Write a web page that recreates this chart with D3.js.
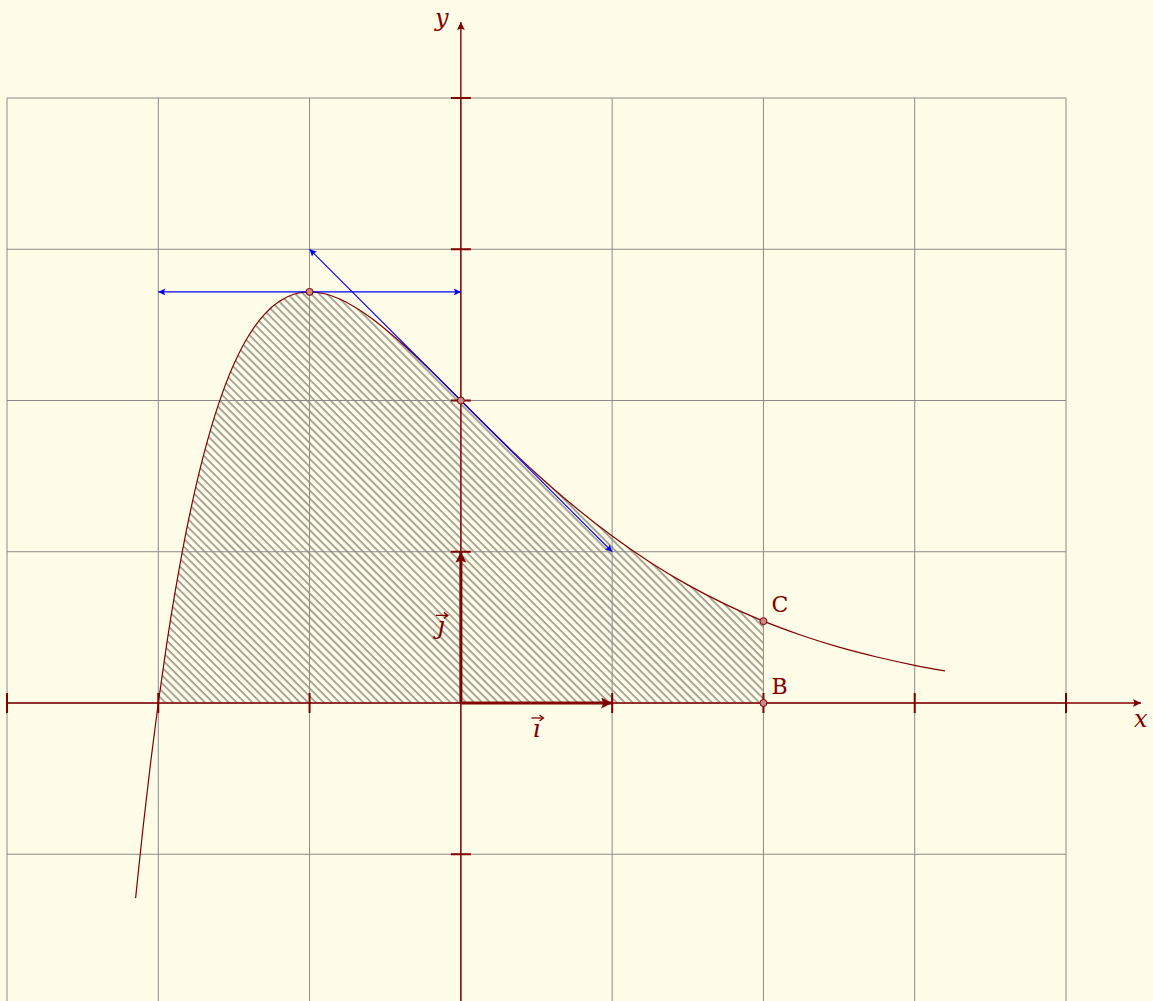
<!DOCTYPE html>
<html>
<head>
<meta charset="utf-8">
<script src="https://cdn.jsdelivr.net/npm/d3@7"></script>
<style>
  html, body { margin: 0; padding: 0; background: #fffce8; overflow: hidden; }
  text { font-family: "DejaVu Serif", "Liberation Serif", serif; fill: #800000; }
</style>
</head>
<body>
<script>
'use strict';

// grid / ticks
let gridX = [-3, -2, -1, 0, 1, 2, 3, 4];
let gridY = [-2, -1, 0, 1, 2, 3, 4];
let xTicks = [-3, -2, -1, 1, 2, 3, 4];
let yTicks = [-1, 1, 2, 3, 4];

// curve
let curveX = [-2.15, -2.1, -2.05, -2, -1.95, -1.9, -1.8, -1.7, -1.6, -1.5, -1.4, -1.3, -1.2, -1.1, -1,
  -0.9, -0.8, -0.6, -0.4, -0.2, 0, 0.25, 0.5, 0.75, 1, 1.25, 1.5, 1.75, 2, 2.25, 2.5, 2.75, 3, 3.2];
let curveY = [-1.29, -0.817, -0.388, 0, 0.351, 0.669, 1.21, 1.642, 1.981, 2.241, 2.433, 2.568, 2.656, 2.704, 2.718,
  2.706, 2.671, 2.551, 2.387, 2.199, 2, 1.752, 1.516, 1.299, 1.104, 0.931, 0.781, 0.652, 0.541, 0.448, 0.369, 0.304, 0.249, 0.212];

// hatched region bounds
let areaFrom = -2, areaTo = 2;

// marked points
let points = [
  { x: -1, y: 2.718, label: "" },
  { x: 0, y: 2, label: "" },
  { x: 2, y: 0.541, label: "C" },
  { x: 2, y: 0, label: "B" }
];

// blue tangents
let tangents = [
  { x1: -2, y1: 2.718, x2: 0, y2: 2.718 },
  { x1: -1, y1: 3, x2: 1, y2: 1 }
];

window.onload = function() {
  let width = 1153, height = 1001;
  let red = "#800000";

  let x = d3.scaleLinear().domain([-3, 4]).range([7, 1066]);
  let y = d3.scaleLinear().domain([0, 4]).range([703, 98]);

  let svg = d3.select("body").append("svg")
    .attr("width", width).attr("height", height);

  let defs = svg.append("defs");
  let pat = defs.append("pattern")
    .attr("id", "hatch")
    .attr("patternUnits", "userSpaceOnUse")
    .attr("width", 5.6).attr("height", 10)
    .attr("patternTransform", "rotate(-45)");
  pat.append("line")
    .attr("x1", 1).attr("y1", 0).attr("x2", 1).attr("y2", 10)
    .attr("stroke", "#333").attr("stroke-width", 0.85);

  function marker(id, color, w, h) {
    defs.append("marker")
      .attr("id", id)
      .attr("viewBox", "0 0 10 10")
      .attr("refX", 10).attr("refY", 5)
      .attr("markerUnits", "userSpaceOnUse")
      .attr("markerWidth", w).attr("markerHeight", h)
      .attr("orient", "auto-start-reverse")
      .append("path")
      .attr("d", "M0,0 L10,5 L0,10 L2,5 Z")
      .attr("fill", color);
  }
  marker("blueArrow", "blue", 9, 7);
  marker("axisArrow", red, 10, 8);
  marker("vecArrow", red, 13, 11);

  // hatched area
  let inside = curveX.map((v, i) => [v, curveY[i]]).filter(d => d[0] >= areaFrom && d[0] <= areaTo);
  svg.append("path")
    .attr("d", d3.area().x(d => x(d[0])).y0(y(0)).y1(d => y(d[1])).curve(d3.curveCatmullRom)(inside))
    .attr("fill", "url(#hatch)");

  // grid
  let grid = svg.append("g").attr("stroke", "#8a8a8a").attr("stroke-width", 1);
  grid.selectAll("line.v").data(gridX).enter().append("line")
    .attr("x1", d => x(d)).attr("x2", d => x(d))
    .attr("y1", y(4)).attr("y2", y(-2));
  grid.selectAll("line.h").data(gridY).enter().append("line")
    .attr("y1", d => y(d)).attr("y2", d => y(d))
    .attr("x1", x(-3)).attr("x2", x(4));

  // axes
  svg.append("line")
    .attr("x1", x(-3)).attr("x2", 1141)
    .attr("y1", y(0)).attr("y2", y(0))
    .attr("stroke", red).attr("stroke-width", 1.4)
    .attr("marker-end", "url(#axisArrow)");
  svg.append("line")
    .attr("x1", x(0)).attr("x2", x(0))
    .attr("y1", height).attr("y2", 22)
    .attr("stroke", red).attr("stroke-width", 1.4)
    .attr("marker-end", "url(#axisArrow)");

  svg.selectAll("line.xt").data(xTicks).enter().append("line")
    .attr("x1", d => x(d)).attr("x2", d => x(d))
    .attr("y1", y(0) - 10).attr("y2", y(0) + 10)
    .attr("stroke", red).attr("stroke-width", 2);
  svg.selectAll("line.yt").data(yTicks).enter().append("line")
    .attr("y1", d => y(d)).attr("y2", d => y(d))
    .attr("x1", x(0) - 10).attr("x2", x(0) + 10)
    .attr("stroke", red).attr("stroke-width", 2);

  svg.append("text").attr("x", 1134).attr("y", 727)
    .attr("font-size", 24).attr("font-style", "italic").text("x");
  svg.append("text").attr("x", 435).attr("y", 26)
    .attr("font-size", 24).attr("font-style", "italic").text("y");

  // curve
  svg.append("path")
    .attr("d", d3.line().x((d, i) => x(d)).y((d, i) => y(curveY[i])).curve(d3.curveCatmullRom)(curveX))
    .attr("fill", "none").attr("stroke", red).attr("stroke-width", 1.2);

  // unit vectors
  svg.append("line")
    .attr("x1", x(0)).attr("y1", y(0)).attr("x2", x(1)).attr("y2", y(0))
    .attr("stroke", red).attr("stroke-width", 3)
    .attr("marker-end", "url(#vecArrow)");
  svg.append("line")
    .attr("x1", x(0)).attr("y1", y(0)).attr("x2", x(0)).attr("y2", y(1))
    .attr("stroke", red).attr("stroke-width", 3)
    .attr("marker-end", "url(#vecArrow)");

  function vecLabel(cx, cy, ch) {
    svg.append("text").attr("x", cx).attr("y", cy)
      .attr("font-size", 25).attr("font-style", "italic")
      .attr("text-anchor", "middle").text(ch);
    svg.append("line")
      .attr("x1", cx - 5).attr("x2", cx + 6)
      .attr("y1", cy - 19).attr("y2", cy - 19)
      .attr("stroke", red).attr("stroke-width", 1.3);
    svg.append("path")
      .attr("d", `M${cx + 3},${cy - 22} L${cx + 7},${cy - 19} L${cx + 3},${cy - 16}`)
      .attr("fill", "none").attr("stroke", red).attr("stroke-width", 1.3);
  }
  vecLabel(x(0.5), y(0) + 34, "ı");
  vecLabel(x(0) - 20, y(0.5) + 7, "ȷ");

  // tangents
  svg.selectAll("line.tan").data(tangents).enter().append("line")
    .attr("x1", d => x(d.x1)).attr("y1", d => y(d.y1))
    .attr("x2", d => x(d.x2)).attr("y2", d => y(d.y2))
    .attr("stroke", "blue").attr("stroke-width", 1.1)
    .attr("marker-start", "url(#blueArrow)")
    .attr("marker-end", "url(#blueArrow)");

  // points
  svg.selectAll("circle.pt").data(points).enter().append("circle")
    .attr("cx", d => x(d.x)).attr("cy", d => y(d.y)).attr("r", 3.5)
    .attr("fill", "#c98a8a").attr("stroke", red).attr("stroke-width", 1);
  svg.selectAll("text.pt").data(points.filter(d => d.label)).enter().append("text")
    .attr("x", d => x(d.x) + 8).attr("y", d => y(d.y) - 9)
    .attr("font-size", 22).text(d => d.label);
};
</script>
</body>
</html>
